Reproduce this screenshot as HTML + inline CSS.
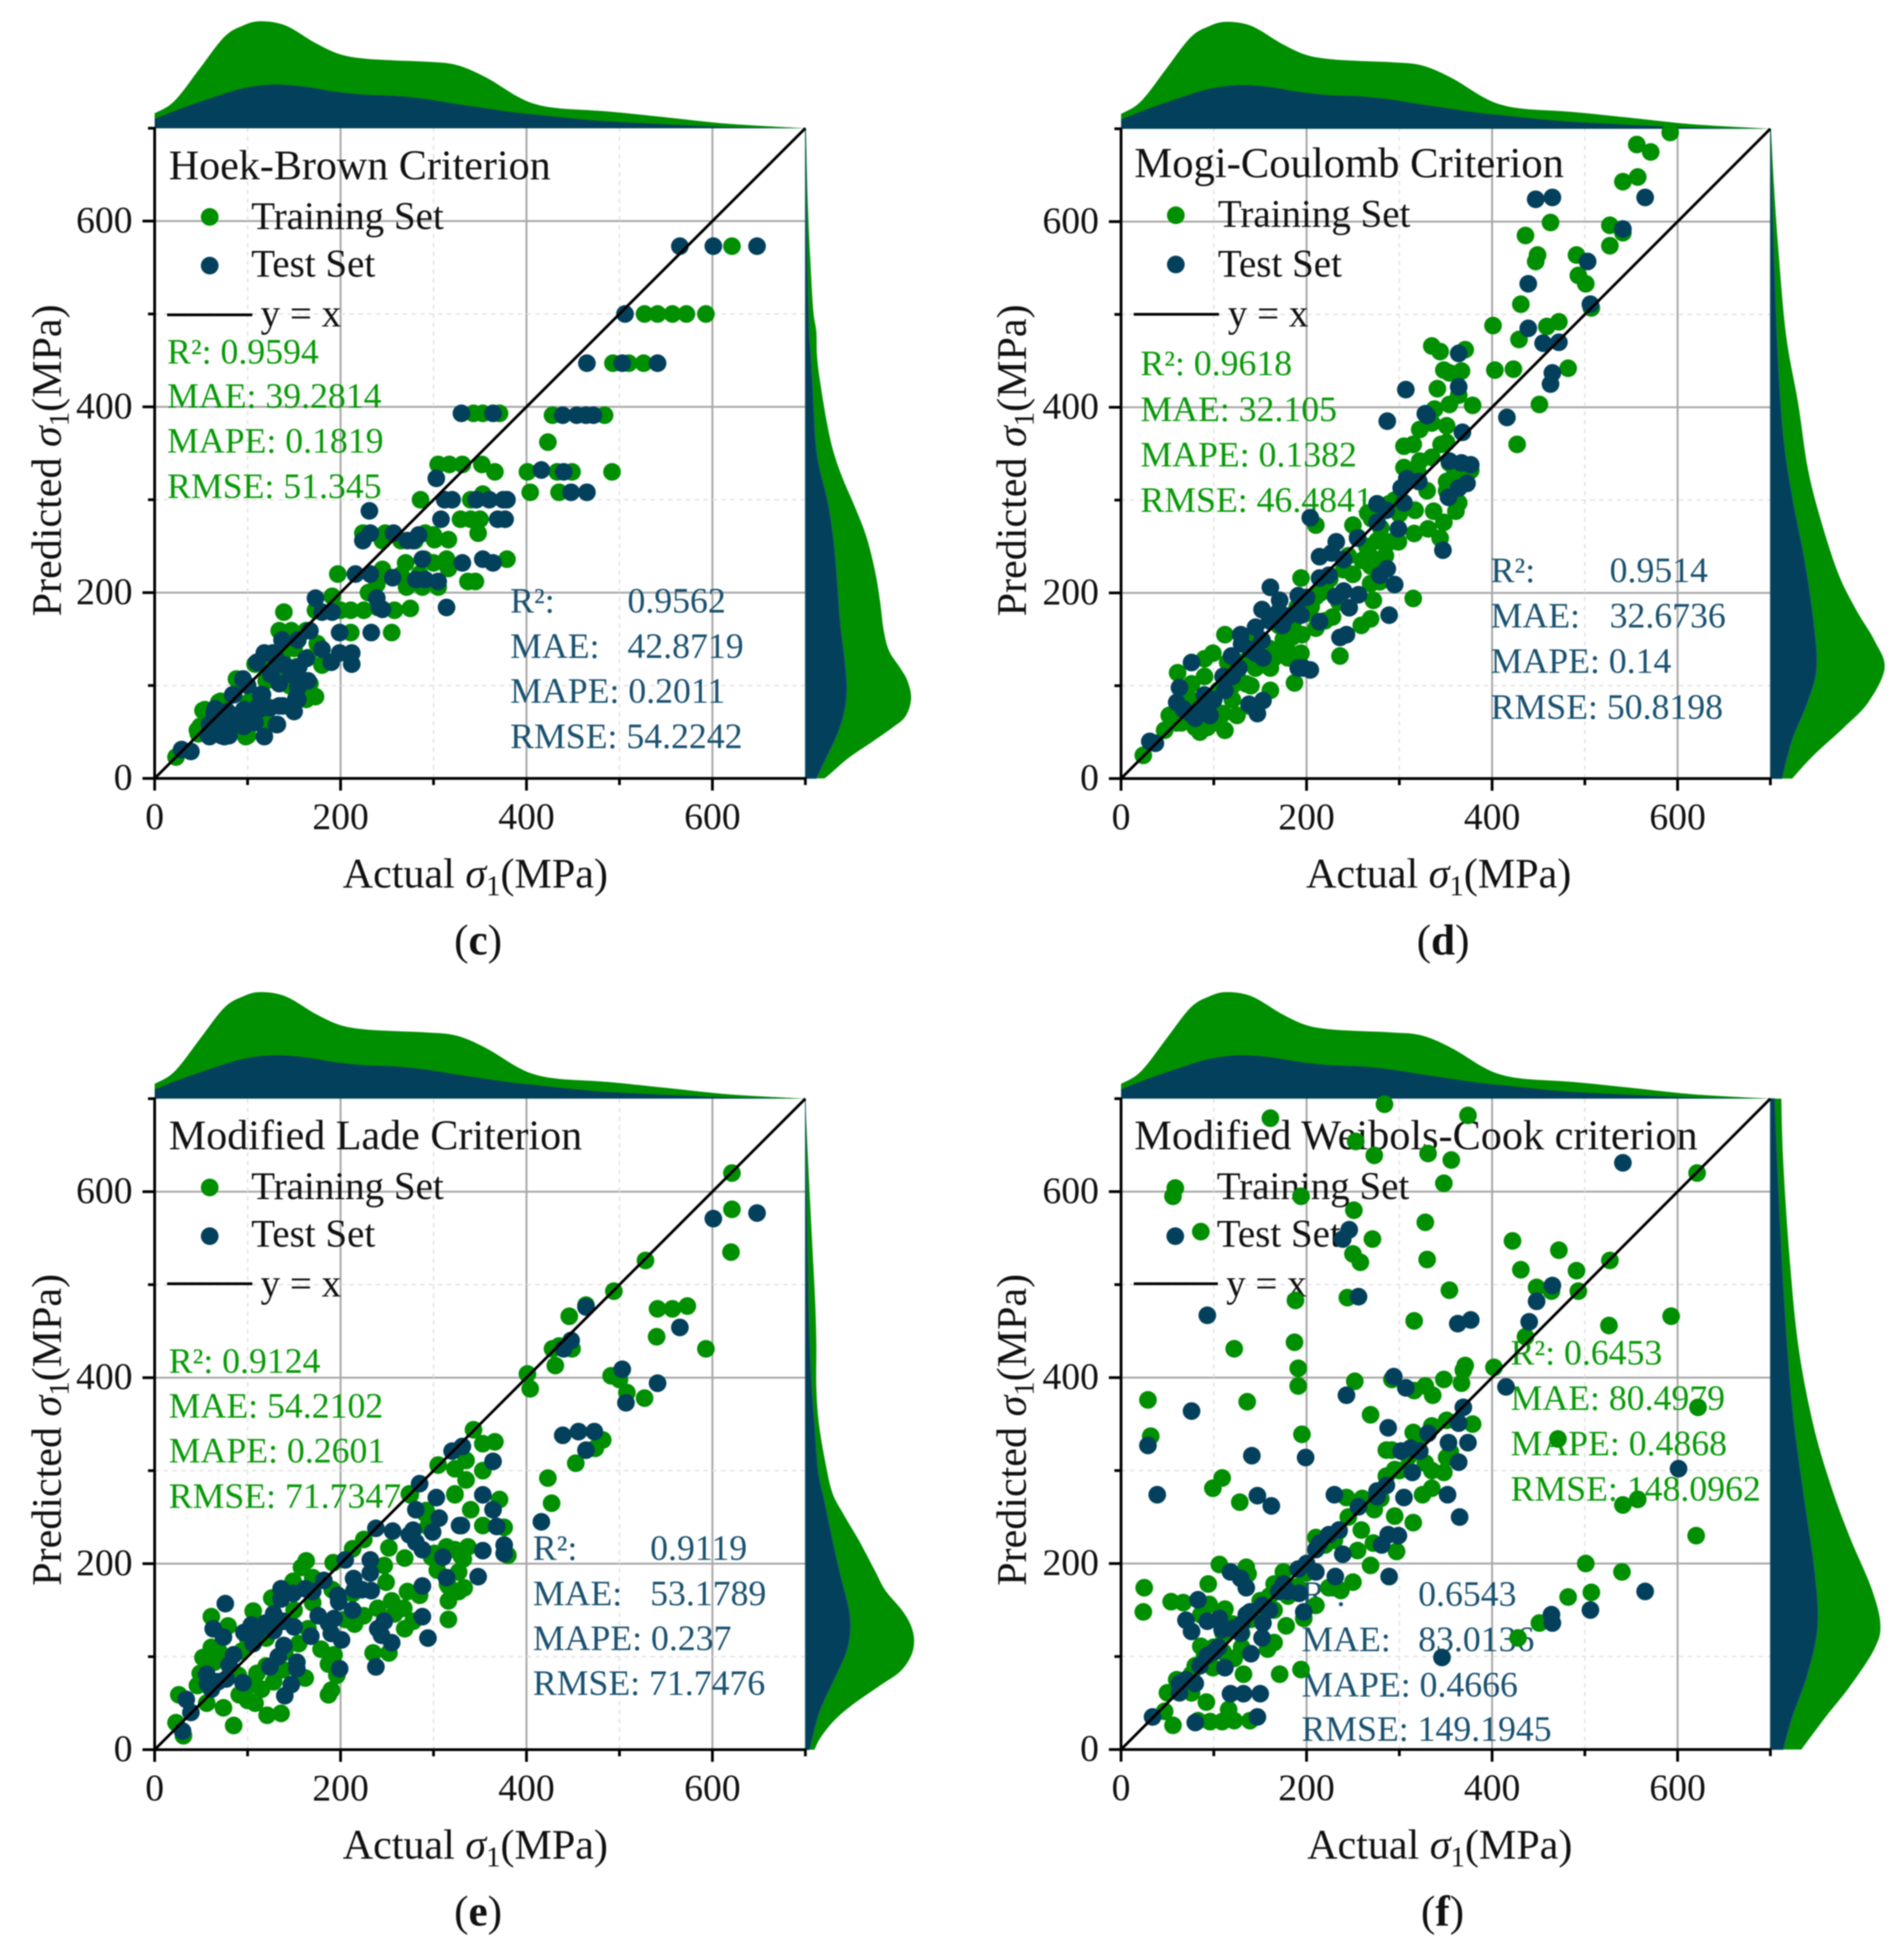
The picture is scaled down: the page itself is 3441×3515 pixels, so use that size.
<!DOCTYPE html>
<html lang="en">
<head>
<meta charset="utf-8">
<title>Actual vs predicted σ1 for four failure criteria</title>
<style>
html,body{margin:0;padding:0;background:#fff;width:3441px;height:3515px;overflow:hidden}
svg{display:block;filter:blur(1px)}
text{font-family:"Liberation Serif","Noto Serif CJK SC",serif;fill:#111}
.title{font-size:76px}
.leg{font-size:70.5px}
.tick{font-size:68px}
.axis{font-size:76px}
.cap{font-size:78px}
.m{font-size:64.6px}
.g{fill:#089a08}
.b{fill:#1a5270}
</style>
</head>
<body>
<svg id="chart" xmlns="http://www.w3.org/2000/svg" width="3441" height="3515" viewBox="0 0 3441 3515">
<rect width="3441" height="3515" fill="#fff"/>

<g id="panel-c">
  <g class="under"></g>
  <g class="labels">
    <text class="title" x="305" y="324">Hoek-Brown Criterion</text>
    <circle cx="379" cy="392" r="16" fill="#008f00"/>
    <text class="leg" x="454" y="414">Training Set</text>
    <circle cx="379" cy="480" r="16" fill="#03405c"/>
    <text class="leg" x="454" y="500">Test Set</text>
    <line x1="302" x2="456" y1="569" y2="569" stroke="#000" stroke-width="5"/>
    <text class="leg" x="471" y="590">y = x</text>
    <text class="m g" x="302" y="657">R²: 0.9594</text>
    <text class="m g" x="302" y="737">MAE: 39.2814</text>
    <text class="m g" x="302" y="818">MAPE: 0.1819</text>
    <text class="m g" x="302" y="900">RMSE: 51.345</text>
    <text class="m b" x="922" y="1107">R²:<tspan x="1134">0.9562</tspan></text>
    <text class="m b" x="922" y="1189">MAE:<tspan x="1134">42.8719</tspan></text>
    <text class="m b" x="922" y="1270">MAPE: 0.2011</text>
    <text class="m b" x="922" y="1352">RMSE: 54.2242</text>
    <text class="axis" x="859" y="1604" text-anchor="middle">Actual <tspan font-style="italic">σ</tspan><tspan dy="14" font-size="52">1</tspan><tspan dy="-14">(MPa)</tspan></text>
    <text class="axis" transform="translate(110 832) rotate(-90)" text-anchor="middle">Predicted <tspan font-style="italic">σ</tspan><tspan dy="14" font-size="52">1</tspan><tspan dy="-14">(MPa)</tspan></text>
    <text class="cap" x="864" y="1725" text-anchor="middle">(<tspan font-weight="bold">c</tspan>)</text>
  </g>
  <g class="marks"></g>
</g>

<g id="panel-d">
  <g class="under"></g>
  <g class="labels">
    <text class="title" x="2050" y="320" style="font-size:77px">Mogi-Coulomb Criterion</text>
    <circle cx="2125" cy="389" r="16" fill="#008f00"/>
    <text class="leg" x="2201" y="410">Training Set</text>
    <circle cx="2125" cy="478" r="16" fill="#03405c"/>
    <text class="leg" x="2201" y="500">Test Set</text>
    <line x1="2049" x2="2203" y1="568" y2="568" stroke="#000" stroke-width="5"/>
    <text class="leg" x="2219" y="590">y = x</text>
    <text class="m g" x="2061" y="678">R²: 0.9618</text>
    <text class="m g" x="2061" y="761">MAE: 32.105</text>
    <text class="m g" x="2061" y="843">MAPE: 0.1382</text>
    <text class="m g" x="2061" y="925">RMSE: 46.4841</text>
    <text class="m b" x="2694" y="1052">R²:<tspan x="2909">0.9514</tspan></text>
    <text class="m b" x="2694" y="1134">MAE:<tspan x="2909">32.6736</tspan></text>
    <text class="m b" x="2694" y="1216">MAPE: 0.14</text>
    <text class="m b" x="2694" y="1299">RMSE: 50.8198</text>
    <text class="axis" x="2600" y="1604" text-anchor="middle">Actual <tspan font-style="italic">σ</tspan><tspan dy="14" font-size="52">1</tspan><tspan dy="-14">(MPa)</tspan></text>
    <text class="axis" transform="translate(1854 832) rotate(-90)" text-anchor="middle">Predicted <tspan font-style="italic">σ</tspan><tspan dy="14" font-size="52">1</tspan><tspan dy="-14">(MPa)</tspan></text>
    <text class="cap" x="2608" y="1725" text-anchor="middle">(<tspan font-weight="bold">d</tspan>)</text>
  </g>
  <g class="marks"></g>
</g>

<g id="panel-e">
  <g class="under"></g>
  <g class="labels">
    <text class="title" x="305" y="2077">Modified Lade Criterion</text>
    <circle cx="379" cy="2146" r="16" fill="#008f00"/>
    <text class="leg" x="454" y="2167">Training Set</text>
    <circle cx="379" cy="2234" r="16" fill="#03405c"/>
    <text class="leg" x="454" y="2253">Test Set</text>
    <line x1="302" x2="456" y1="2320" y2="2320" stroke="#000" stroke-width="5"/>
    <text class="leg" x="471" y="2343">y = x</text>
    <text class="m g" x="305" y="2481">R²: 0.9124</text>
    <text class="m g" x="305" y="2562">MAE: 54.2102</text>
    <text class="m g" x="305" y="2643">MAPE: 0.2601</text>
    <text class="m g" x="305" y="2725">RMSE: 71.7347</text>
    <text class="m b" x="963" y="2819">R²:<tspan x="1175">0.9119</tspan></text>
    <text class="m b" x="963" y="2901">MAE:<tspan x="1175">53.1789</tspan></text>
    <text class="m b" x="963" y="2982">MAPE: 0.237</text>
    <text class="m b" x="963" y="3063">RMSE: 71.7476</text>
    <text class="axis" x="859" y="3359" text-anchor="middle">Actual <tspan font-style="italic">σ</tspan><tspan dy="14" font-size="52">1</tspan><tspan dy="-14">(MPa)</tspan></text>
    <text class="axis" transform="translate(110 2584) rotate(-90)" text-anchor="middle">Predicted <tspan font-style="italic">σ</tspan><tspan dy="14" font-size="52">1</tspan><tspan dy="-14">(MPa)</tspan></text>
    <text class="cap" x="864" y="3480" text-anchor="middle">(<tspan font-weight="bold">e</tspan>)</text>
  </g>
  <g class="marks"></g>
</g>

<g id="panel-f">
  <g class="under"></g>
  <g class="labels">
    <text class="title" x="2050" y="2077" style="font-size:76.3px">Modified Weibols-Cook criterion</text>
    <circle cx="2124" cy="2147" r="16" fill="#008f00"/>
    <text class="leg" x="2199" y="2167">Training Set</text>
    <circle cx="2124" cy="2234" r="16" fill="#03405c"/>
    <text class="leg" x="2199" y="2253">Test Set</text>
    <line x1="2049" x2="2201" y1="2320" y2="2320" stroke="#000" stroke-width="5"/>
    <text class="leg" x="2216" y="2343">y = x</text>
    <text class="m g" x="2730" y="2466">R²: 0.6453</text>
    <text class="m g" x="2730" y="2548">MAE: 80.4979</text>
    <text class="m g" x="2730" y="2630">MAPE: 0.4868</text>
    <text class="m g" x="2730" y="2712">RMSE: 148.0962</text>
    <text class="m b" x="2352" y="2902">R²:<tspan x="2563">0.6543</tspan></text>
    <text class="m b" x="2352" y="2984">MAE:<tspan x="2563">83.0136</tspan></text>
    <text class="m b" x="2352" y="3066">MAPE: 0.4666</text>
    <text class="m b" x="2352" y="3146">RMSE: 149.1945</text>
    <text class="axis" x="2602" y="3359" text-anchor="middle">Actual <tspan font-style="italic">σ</tspan><tspan dy="14" font-size="52">1</tspan><tspan dy="-14">(MPa)</tspan></text>
    <text class="axis" transform="translate(1854 2584) rotate(-90)" text-anchor="middle">Predicted <tspan font-style="italic">σ</tspan><tspan dy="14" font-size="52">1</tspan><tspan dy="-14">(MPa)</tspan></text>
    <text class="cap" x="2607" y="3480" text-anchor="middle">(<tspan font-weight="bold">f</tspan>)</text>
  </g>
  <g class="marks"></g>
</g>
</svg>

<script>
/* ---- shared tick labels ---- */
const majorTicks = [0, 200, 400, 600];
const minorTicks = [100, 300, 500, 700];

/* ---- marginal density along actual σ1 (same measured values for all panels) ---- */
const topKdeTrainX = [0,16,29,49,75,95,114,141,173,199,225,258,291,324,356,389,409,435,487,553,618,700];
const topKdeTrainD = [24,37,57,97,147,165,172,165,137,119,112,109,107,102,82,52,39,32,27,17,7,0];
const topKdeTestX = [0,29,62,95,127,160,193,225,258,291,324,356,389,422,454,487,553,618,700];
const topKdeTestD = [15,32,49,64,70,67,59,54,52,47,39,32,25,20,15,11,6,2,0];

/* ---- marginal density along predicted σ1: [predicted, density] ---- */
const hoekRightTrain = [[0,31.6],[5,41],[22,71],[38,107],[55,144],[67,165],[86,174],[105,168],[119,156],[137,138],[159,129],[190,123],[222,115],[259,101],[290,83],[322,62],[350,47],[381,36],[428,24],[456,19],[481,18],[504,13],[560,8],[620,4],[700,1]];
const hoekRightTest = [[0,18],[19,32],[50,54],[75,65],[100,68],[131,64],[169,57],[231,50],[268,44],[300,36],[337,22],[368,16],[418,12],[462,8],[481,6],[560,3],[650,1],[700,0]];
const mogiRightTrain = [[0,36],[25,71],[55,121],[82,161],[119,188],[149,171],[182,141],[222,111],[283,81],[336,61],[403,46],[477,26],[571,13],[638,6],[700,1]];
const mogiRightTest = [[0,19],[42,36],[82,61],[119,76],[169,71],[236,56],[303,36],[370,21],[470,11],[604,4],[700,0]];
const ladeRightTrain = [[0,15],[13,25],[31,47],[48,77],[69,123],[84,156],[101,174],[117,179],[133,174],[150,159],[171,132],[193,114],[224,89],[254,62],[277,44],[312,32],[352,22],[390,18],[436,18],[483,16],[560,10],[640,4],[700,0]];
const ladeRightTest = [[0,7],[22,15],[44,25],[75,47],[106,68],[131,74],[153,71],[184,59],[218,47],[265,32],[299,21],[349,15],[405,9],[483,5],[600,2],[700,0]];
const weibolsRightTrain = [[0,51],[35,91],[68,131],[108,171],[135,181],[174,166],[228,131],[281,101],[348,71],[434,46],[534,31],[634,21],[700,18]];
const weibolsRightTest = [[0,21],[35,36],[81,61],[135,78],[201,71],[268,56],[368,36],[500,21],[634,11],[700,7]];

/* ---- scatter values: [actual, predicted] ---- */
const hoekTrain = [[621,573],[527,500],[541,500],[557,500],[572,500],[593,500],[493,447],[510,447],[526,447],[343,393],[353,393],[371,393],[428,391],[484,391],[423,362],[305,338],[317,338],[331,338],[352,338],[366,330],[401,330],[433,330],[449,330],[492,330],[404,308],[435,308],[286,300],[340,300],[353,306],[329,279],[340,279],[350,279],[348,264],[224,264],[248,264],[291,264],[301,257],[316,257],[245,256],[265,256],[270,232],[314,236],[316,226],[337,212],[345,212],[379,236],[197,220],[239,209],[271,206],[288,206],[305,206],[265,219],[139,179],[191,196],[211,181],[225,181],[258,181],[275,183],[173,181],[255,157],[211,157],[147,159],[163,159],[134,159],[124,125],[108,123],[137,132],[180,122],[88,107],[167,102],[173,88],[163,85],[52,73],[69,82],[101,82],[46,52],[98,45],[23,23],[121,62],[108,62],[75,82],[240,184],[200,181],[290,236],[300,232],[152,120],[165,130],[145,100],[54,74],[71,83],[100,46],[47,48],[49,56],[230,200],[285,220],[245,225],[300,262],[280,256],[150,140],[175,145],[135,115],[120,105]];
const hoekTest = [[565,573],[601,573],[648,573],[506,500],[465,447],[503,447],[541,447],[330,393],[364,393],[439,391],[454,391],[464,391],[472,391],[416,332],[440,330],[448,308],[465,308],[303,323],[312,300],[320,300],[346,300],[360,300],[375,300],[379,300],[231,288],[308,279],[369,279],[377,279],[224,256],[232,264],[257,264],[272,256],[284,262],[278,256],[288,236],[331,232],[353,236],[364,232],[256,216],[216,220],[232,220],[281,214],[291,214],[305,212],[314,184],[173,194],[239,194],[242,184],[245,182],[180,179],[191,179],[233,157],[199,157],[167,159],[154,149],[137,149],[118,135],[127,135],[163,129],[180,139],[190,125],[199,135],[212,135],[212,123],[147,112],[134,102],[154,98],[116,90],[95,107],[85,90],[154,85],[134,78],[114,75],[95,72],[78,72],[65,75],[150,72],[131,58],[95,58],[59,58],[75,45],[59,45],[118,45],[69,58],[82,58],[29,31],[39,29],[58,46],[72,46],[80,46],[64,58],[76,58],[88,58],[96,56],[108,60],[132,58],[64,70],[80,70],[96,74],[110,76],[124,76],[138,78],[152,86],[114,90],[84,90],[110,125],[125,112],[140,122],[100,100],[130,130],[150,112],[165,105],[155,120]];
const mogiTrain = [[592,696],[556,683],[571,675],[541,643],[557,648],[527,596],[541,588],[527,574],[463,599],[436,585],[449,564],[447,557],[491,564],[493,542],[501,533],[507,507],[431,511],[401,488],[429,473],[459,487],[472,492],[335,466],[344,460],[371,462],[403,440],[423,441],[482,442],[348,440],[367,439],[354,437],[341,420],[364,413],[379,402],[451,403],[354,403],[427,360],[338,398],[322,376],[305,358],[315,360],[335,383],[351,380],[351,362],[305,335],[322,342],[335,346],[377,332],[354,340],[351,320],[351,310],[364,297],[361,288],[317,289],[337,288],[331,269],[348,276],[344,259],[316,264],[299,255],[210,273],[250,273],[266,286],[289,296],[276,256],[269,239],[269,229],[269,210],[279,212],[315,194],[272,192],[269,172],[259,165],[228,174],[236,132],[210,196],[194,216],[220,206],[210,162],[174,169],[184,152],[178,142],[194,135],[187,103],[161,95],[145,119],[161,119],[135,102],[125,68],[138,78],[112,52],[93,55],[85,50],[112,155],[99,135],[61,114],[90,129],[76,102],[52,68],[47,52],[24,25],[99,82],[120,100],[160,140],[200,178],[245,240],[80,75],[65,60],[70,70],[80,55],[100,60],[110,70],[120,85],[125,110],[140,100],[150,125],[165,130],[175,150],[185,165],[195,155],[205,185],[215,200],[225,215],[255,260],[260,235],[280,270],[300,285],[320,330],[345,360],[330,310],[360,330],[270,280],[285,240],[290,255],[60,60],[75,85],[90,110],[105,95],[115,125],[130,125],[135,150],[150,150],[160,120],[170,165],[190,185],[180,130],[220,170],[235,190],[250,220],[265,250],[240,225],[280,225],[295,300]];
const mogiTest = [[565,626],[447,624],[465,626],[541,592],[439,533],[503,557],[506,511],[439,485],[455,469],[472,470],[465,437],[463,425],[416,389],[364,458],[364,422],[307,419],[328,393],[330,391],[287,385],[368,373],[354,342],[377,338],[367,340],[373,318],[364,313],[353,303],[347,246],[308,323],[302,313],[321,320],[305,297],[204,281],[276,296],[286,289],[276,276],[299,269],[255,259],[232,255],[214,239],[227,243],[240,236],[214,216],[224,219],[279,219],[287,226],[295,209],[161,206],[152,182],[171,192],[191,197],[231,196],[240,202],[256,198],[246,184],[289,176],[214,169],[174,165],[194,176],[236,152],[243,155],[197,119],[204,117],[191,119],[145,163],[129,155],[152,149],[119,132],[139,139],[153,130],[127,119],[76,125],[63,98],[60,82],[112,95],[96,82],[138,80],[153,84],[147,70],[80,65],[96,68],[67,75],[31,40],[37,38],[90,90],[100,85],[110,110],[120,110],[85,75],[130,145],[160,170],[180,175],[190,180],[170,180],[200,195],[145,135],[75,70]];
const ladeTrain = [[621,620],[621,581],[620,535],[528,526],[494,493],[541,474],[557,474],[573,477],[540,444],[593,431],[464,478],[446,466],[435,434],[428,431],[449,431],[431,413],[401,404],[404,388],[491,402],[500,398],[508,384],[527,378],[482,333],[474,324],[453,308],[423,292],[427,265],[343,344],[366,331],[353,329],[305,306],[335,311],[323,302],[335,290],[353,300],[323,274],[275,274],[371,269],[340,258],[291,254],[376,239],[380,209],[353,241],[337,218],[330,208],[314,218],[301,211],[327,191],[333,174],[316,176],[61,143],[79,133],[106,149],[163,203],[158,196],[192,201],[149,181],[126,163],[170,185],[61,110],[52,99],[49,82],[46,69],[26,59],[56,50],[74,45],[85,26],[23,29],[31,15],[69,106],[64,94],[94,106],[91,59],[100,53],[108,50],[121,37],[136,39],[115,65],[128,73],[110,82],[138,86],[162,77],[155,114],[179,108],[193,102],[187,92],[196,80],[190,64],[187,59],[170,158],[191,172],[213,168],[249,180],[225,144],[240,152],[255,160],[272,170],[285,166],[268,152],[269,130],[278,138],[258,146],[235,104],[252,104],[252,217],[269,206],[247,198],[225,226],[213,216],[323,275],[274,275],[292,257],[294,240],[316,160],[316,140],[315,178],[304,193],[298,207],[327,170],[323,215],[332,205],[78,95],[90,80],[105,70],[120,90],[140,105],[120,120],[100,120],[165,130],[150,150],[205,140],[215,135]];
const ladeTest = [[601,571],[648,577],[565,454],[503,409],[541,394],[507,373],[464,476],[448,440],[440,431],[439,338],[456,342],[473,342],[464,322],[416,245],[320,321],[331,326],[364,310],[353,274],[364,258],[330,241],[368,240],[353,214],[376,220],[376,211],[348,186],[76,157],[63,130],[74,121],[34,54],[39,40],[30,20],[85,102],[80,91],[56,81],[57,71],[68,73],[77,76],[61,65],[95,72],[96,126],[104,134],[110,126],[106,114],[119,136],[128,146],[128,128],[136,173],[136,162],[149,168],[162,173],[170,170],[182,182],[138,138],[150,132],[139,112],[133,100],[124,89],[153,94],[153,87],[147,70],[140,58],[168,122],[176,144],[187,136],[193,141],[190,125],[201,118],[199,87],[197,166],[198,159],[213,150],[214,184],[232,204],[232,190],[215,172],[223,172],[233,171],[205,204],[238,238],[256,235],[274,231],[278,236],[281,223],[288,215],[285,286],[303,271],[281,258],[306,249],[299,234],[247,138],[240,130],[244,123],[255,115],[288,143],[288,176],[294,120],[238,89],[310,207],[314,185],[328,241]];
const weibolsTrain = [[161,679],[284,694],[374,682],[253,654],[273,639],[331,641],[356,634],[348,609],[56,595],[194,595],[251,580],[86,557],[271,549],[328,567],[330,527],[250,533],[258,524],[244,486],[354,494],[188,483],[316,461],[187,438],[122,431],[191,410],[191,391],[252,396],[29,376],[136,374],[269,360],[32,337],[195,339],[109,292],[99,281],[128,266],[292,398],[328,391],[316,386],[336,381],[348,398],[369,408],[367,394],[371,413],[402,411],[292,322],[286,322],[335,348],[351,354],[379,350],[315,341],[286,294],[295,301],[328,308],[348,298],[351,314],[335,281],[325,274],[243,271],[273,258],[295,251],[315,244],[259,236],[297,213],[269,198],[250,180],[237,171],[255,214],[210,228],[272,222],[422,547],[431,516],[472,537],[491,515],[527,526],[493,493],[448,497],[464,493],[436,444],[526,456],[593,466],[621,620],[622,368],[471,334],[541,263],[557,269],[620,230],[501,200],[540,191],[507,169],[482,164],[451,136],[428,120],[25,174],[24,148],[54,159],[67,158],[106,199],[135,196],[137,189],[94,178],[95,156],[112,151],[86,145],[171,81],[194,86],[132,81],[92,51],[56,26],[83,31],[96,30],[109,30],[122,31],[139,31],[116,43],[165,115],[178,133],[158,108],[86,111],[99,88],[122,98],[60,75],[50,61],[47,41],[194,194],[175,191],[165,178],[197,141],[210,155],[224,174],[76,61],[76,81],[130,125],[150,150],[110,105],[220,220],[235,235],[100,110],[110,125],[120,135],[130,110],[140,140],[90,100],[80,90],[70,75],[150,160],[160,165],[165,150],[180,165],[190,175],[200,190],[230,225],[245,250],[260,270],[280,270],[300,300],[310,315],[320,330],[335,300],[355,320]];
const weibolsTest = [[541,631],[246,559],[239,549],[256,487],[93,467],[465,499],[448,482],[440,460],[363,458],[377,462],[415,390],[307,389],[294,401],[243,381],[369,368],[364,351],[76,364],[288,346],[331,340],[29,327],[141,316],[199,314],[39,274],[147,273],[162,262],[230,274],[374,330],[353,330],[364,309],[312,324],[302,321],[322,321],[314,298],[601,302],[352,274],[365,250],[305,271],[276,278],[286,284],[276,272],[256,261],[288,231],[299,230],[281,220],[239,210],[289,186],[231,186],[235,236],[224,231],[214,222],[210,191],[191,194],[175,178],[192,168],[197,148],[118,191],[129,184],[135,174],[83,161],[70,139],[76,127],[93,138],[106,141],[109,129],[152,155],[139,148],[153,136],[152,120],[129,125],[565,170],[506,150],[464,145],[465,136],[346,99],[140,103],[93,101],[112,88],[80,71],[63,71],[63,61],[118,60],[132,60],[150,60],[34,35],[80,29],[147,35],[120,130],[130,135],[100,105],[105,110],[135,145],[170,170],[200,200],[210,215],[180,170],[160,150],[70,75],[85,90]];

/* ---- panel frames (layout only) ---- */
const frames = [
  {id:'panel-c', left:279.5, right:1455.5, bottom:1406.7, top:231.7, topScale:1.124, train:hoekTrain, test:hoekTest, rightTrain:hoekRightTrain, rightTest:hoekRightTest},
  {id:'panel-d', left:2026, right:3199.5, bottom:1407, top:232.7, topScale:1.124, train:mogiTrain, test:mogiTest, rightTrain:mogiRightTrain, rightTest:mogiRightTest},
  {id:'panel-e', left:279.5, right:1455.5, bottom:3162, top:1985.5, topScale:1.12, train:ladeTrain, test:ladeTest, rightTrain:ladeRightTrain, rightTest:ladeRightTest},
  {id:'panel-f', left:2026, right:3199.5, bottom:3161.7, top:1985.5, topScale:1.12, train:weibolsTrain, test:weibolsTest, rightTrain:weibolsRightTrain, rightTest:weibolsRightTest}
];
const AXIS_MAX = 700;
const RIGHT_SCALE = 1.098;
const POINT_R = 16;
const GREEN = '#008f00';
const NAVY = '#03405c';
const NS = 'http://www.w3.org/2000/svg';

function mk(tag, attrs, parent) {
  const el = document.createElementNS(NS, tag);
  for (const k in attrs) el.setAttribute(k, attrs[k]);
  parent.appendChild(el);
  return el;
}
function smooth(pts) {
  let d = '';
  for (let i = 0; i < pts.length - 1; i++) {
    const p0 = pts[Math.max(i - 1, 0)], p1 = pts[i], p2 = pts[i + 1], p3 = pts[Math.min(i + 2, pts.length - 1)];
    const c1 = [p1[0] + (p2[0] - p0[0]) / 6, p1[1] + (p2[1] - p0[1]) / 6];
    const c2 = [p2[0] - (p3[0] - p1[0]) / 6, p2[1] - (p3[1] - p1[1]) / 6];
    d += 'C' + c1[0].toFixed(1) + ' ' + c1[1].toFixed(1) + ' ' + c2[0].toFixed(1) + ' ' + c2[1].toFixed(1) + ' ' + p2[0].toFixed(1) + ' ' + p2[1].toFixed(1);
  }
  return d;
}

frames.forEach(function (f) {
  const root = document.getElementById(f.id);
  const under = root.querySelector('.under');
  const marks = root.querySelector('.marks');
  const xS = function (v) { return f.left + (f.right - f.left) * v / AXIS_MAX; };
  const yS = function (v) { return f.bottom - (f.bottom - f.top) * v / AXIS_MAX; };

  /* gridlines */
  majorTicks.forEach(function (t) {
    if (t === 0) return;
    const gx = mk('line', {x1:xS(t), x2:xS(t), y1:f.bottom, y2:f.top, stroke:'#a8a8a8', 'stroke-width':3.5}, under);
    
    
    const gy = mk('line', {x1:f.left, x2:f.right, y1:yS(t), y2:yS(t), stroke:'#a8a8a8', 'stroke-width':3.5}, under);
    
    
  });
  minorTicks.forEach(function (t) {
    if (t === AXIS_MAX) return;
    const gx = mk('line', {x1:xS(t), x2:xS(t), y1:f.bottom, y2:f.top, stroke:'#e2e2e2', 'stroke-width':2.5, 'stroke-dasharray':'8 8'}, under);
    
    
    const gy = mk('line', {x1:f.left, x2:f.right, y1:yS(t), y2:yS(t), stroke:'#e2e2e2', 'stroke-width':2.5, 'stroke-dasharray':'8 8'}, under);
    
    
  });

  /* top marginal densities */
  const topPath = function (xs, ds) {
    const pts = xs.map(function (x, i) { return [xS(x), f.top - ds[i] * f.topScale]; });
    return 'M' + f.left + ' ' + f.top + 'L' + pts[0][0] + ' ' + pts[0][1] + smooth(pts) + 'L' + f.right + ' ' + f.top + 'Z';
  };
  const topTrain = mk('path', {d:topPath(topKdeTrainX, topKdeTrainD), fill:GREEN}, marks);
  
  
  const topTest = mk('path', {d:topPath(topKdeTestX, topKdeTestD), fill:NAVY}, marks);
  
  

  /* right marginal densities */
  const rightPath = function (rows) {
    const pts = rows.map(function (r) { return [f.right + r[1] * RIGHT_SCALE, yS(r[0])]; });
    return 'M' + f.right + ' ' + f.bottom + 'L' + pts[0][0] + ' ' + pts[0][1] + smooth(pts) + 'L' + f.right + ' ' + f.top + 'Z';
  };
  const rightTrain = mk('path', {d:rightPath(f.rightTrain), fill:GREEN}, marks);
  
  
  const rightTest = mk('path', {d:rightPath(f.rightTest), fill:NAVY, stroke:'#1d5f6a', 'stroke-width':1.5}, marks);
  
  

  /* scatter points */
  f.train.forEach(function (p) {
    const c = mk('circle', {cx:xS(p[0]), cy:yS(p[1]), r:POINT_R, fill:GREEN}, marks);
    
    
  });
  f.test.forEach(function (p) {
    const c = mk('circle', {cx:xS(p[0]), cy:yS(p[1]), r:POINT_R, fill:NAVY}, marks);
    
    
  });

  /* identity line */
  const diag = mk('line', {x1:xS(0), y1:yS(0), x2:xS(AXIS_MAX), y2:yS(AXIS_MAX), stroke:'#000', 'stroke-width':5}, marks);
  
  

  /* axes */
  const xAxis = mk('line', {x1:f.left - 2.5, x2:f.right + 2, y1:f.bottom, y2:f.bottom, stroke:'#000', 'stroke-width':5}, marks);
  
  
  const yAxis = mk('line', {x1:f.left, x2:f.left, y1:f.bottom + 2, y2:f.top - 2, stroke:'#000', 'stroke-width':5}, marks);
  
  

  majorTicks.forEach(function (t) {
    const tx = mk('line', {x1:xS(t), x2:xS(t), y1:f.bottom, y2:f.bottom + 22, stroke:'#000', 'stroke-width':5}, marks);
    
    
    const ty = mk('line', {x1:f.left, x2:f.left - 22, y1:yS(t), y2:yS(t), stroke:'#000', 'stroke-width':5}, marks);
    
    
    const lx = mk('text', {x:xS(t), y:f.bottom + 92, 'text-anchor':'middle', class:'tick'}, marks);
    lx.textContent = String(t);
    
    
    const ly = mk('text', {x:f.left - 40, y:yS(t) + 21, 'text-anchor':'end', class:'tick'}, marks);
    ly.textContent = String(t);
    
    
  });
  minorTicks.forEach(function (t) {
    const tx = mk('line', {x1:xS(t), x2:xS(t), y1:f.bottom, y2:f.bottom + 12, stroke:'#000', 'stroke-width':5}, marks);
    
    
    const ty = mk('line', {x1:f.left, x2:f.left - 12, y1:yS(t), y2:yS(t), stroke:'#000', 'stroke-width':5}, marks);
    
    
  });
});
</script>
</body>
</html>
